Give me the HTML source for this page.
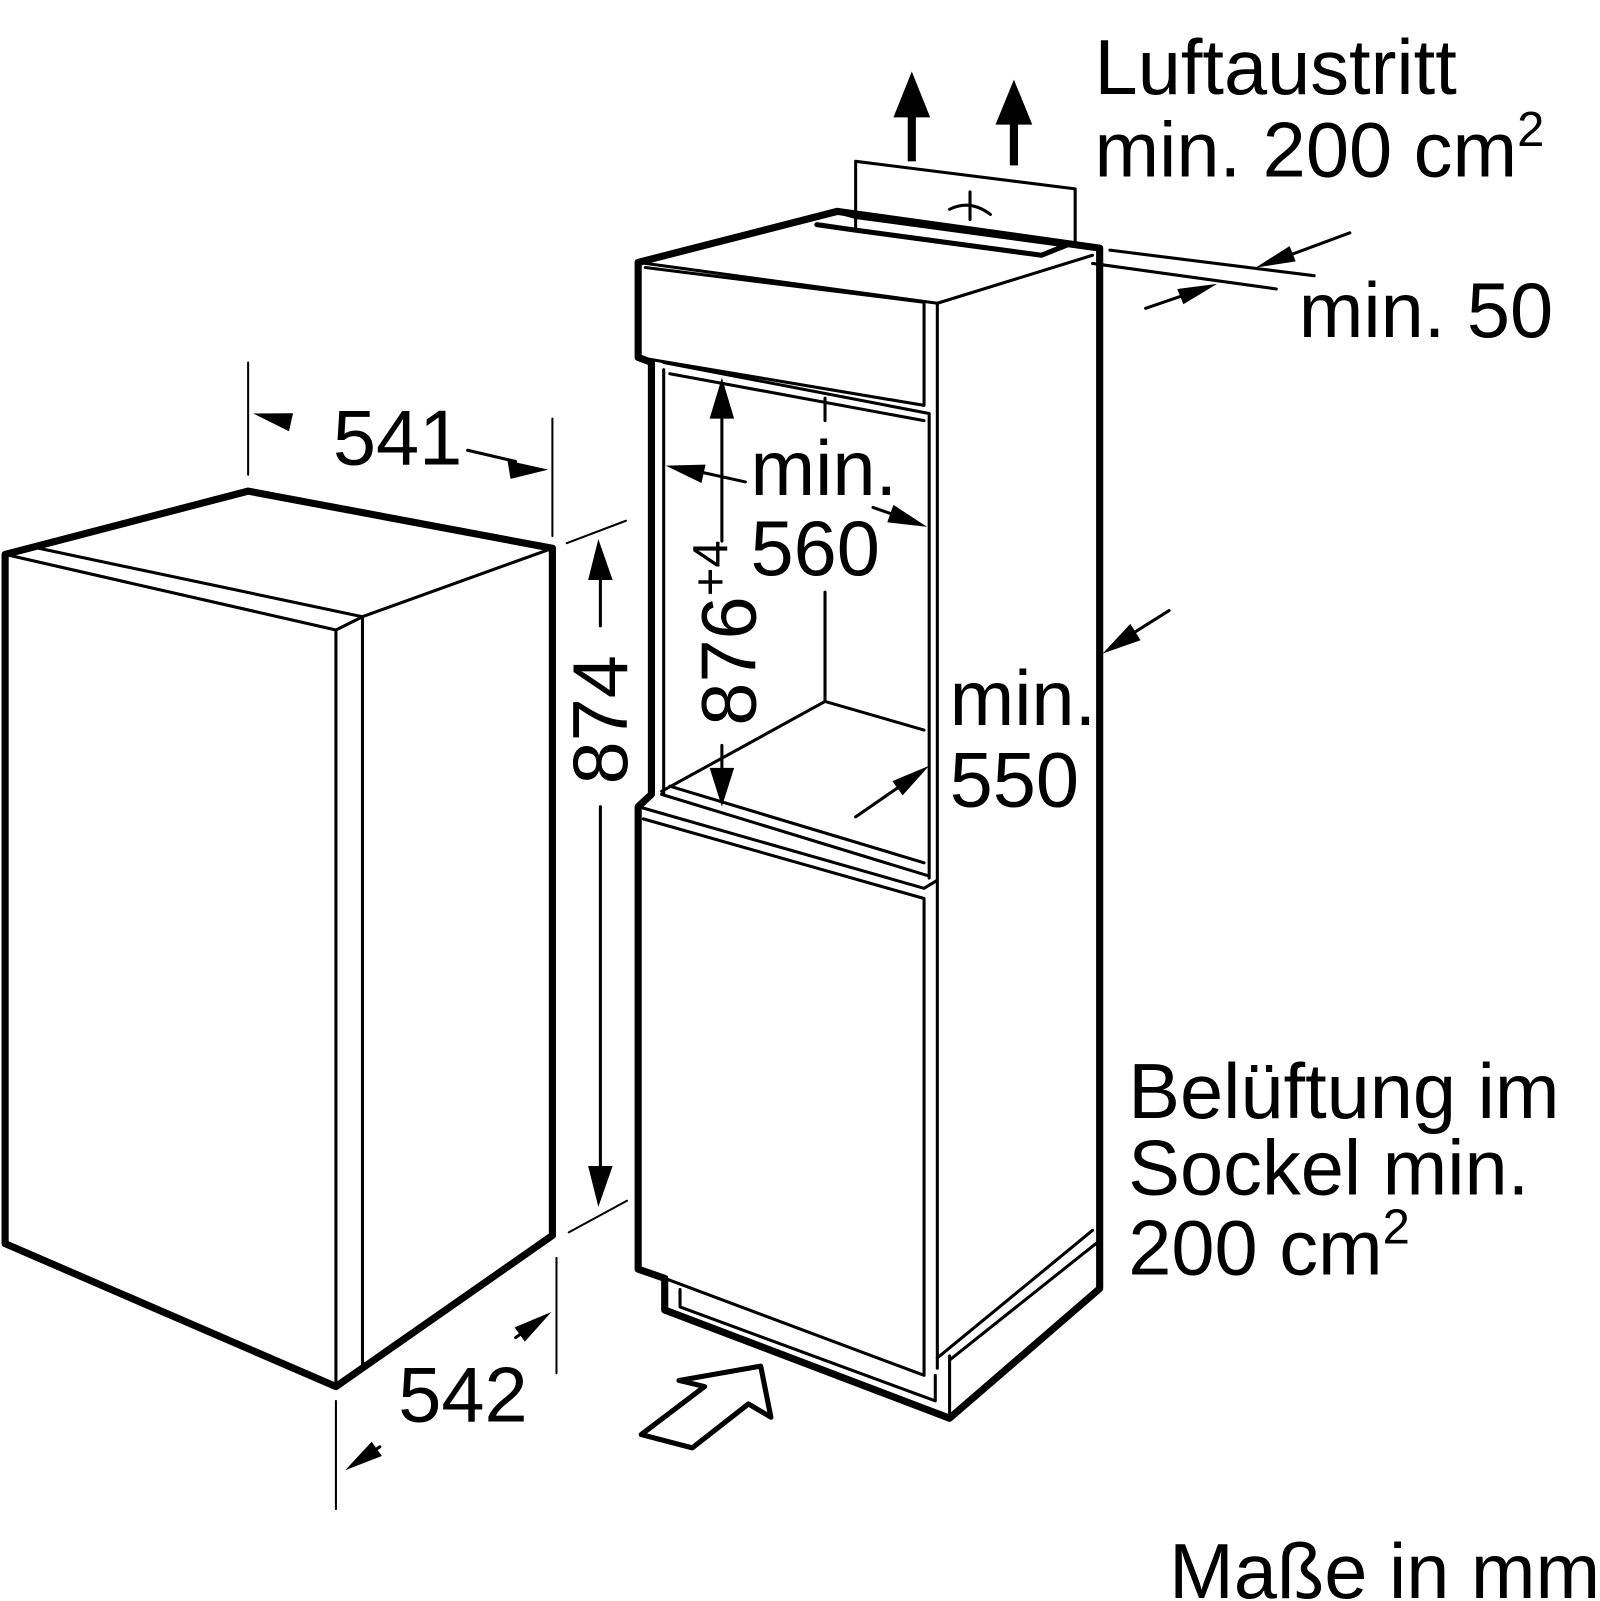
<!DOCTYPE html>
<html><head><meta charset="utf-8"><style>html,body{margin:0;padding:0;background:#fff}svg{display:block}</style></head>
<body>
<svg width="1600" height="1601" viewBox="0 0 1567 1568" xmlns="http://www.w3.org/2000/svg">
<g fill="none" stroke="#000" stroke-linejoin="round" stroke-linecap="round">
<path d="M5,543 L243,481 L541,537 L541,1210 L329,1358 L5,1218 Z" stroke-width="7"/>
<path d="M5,543 L329,617 L329,1358" stroke-width="3"/>
<path d="M38,537 L355,604 L355,1338" stroke-width="3"/>
<path d="M329,617 L355,604 L541,537" stroke-width="3"/>
<path d="M243,355 L243,465 M541,410 L541,525" stroke-width="2"/>
<path d="M283,413 L270,410 M458,441 L505,452" stroke-width="3"/>
<path d="M555,532 L613,510 M557,1207 L614,1176" stroke-width="2"/>
<path d="M588,560 L588,613 M588,790 L588,1150" stroke-width="3"/>
<path d="M545,1232 L545,1345 M329,1372 L329,1478" stroke-width="2"/>
<path d="M505,1310 L512,1305 M369,1419 L372,1417" stroke-width="3"/>
<path d="M638,778 L638,355 L625,350 L625,257 L820,207 L1077,243 L1077,1262 L930,1389 L651,1283 L651,1252 L625,1243 L625,790 L638,778" stroke-width="7"/>
<path d="M625,257 L918,297 L1070,250 M632,262 L905,296" stroke-width="3"/>
<path d="M625,350 L905,397 L905,296 M918,297 L918,1340" stroke-width="3"/>
<path d="M650,355 L910,405 L910,860 M650,362 L650,778 M656,366 L905,412 M648,778 L910,858 M656,770 L905,845" stroke-width="3"/>
<path d="M808,390 L808,412 M808,580 L808,687 L648,775 M808,687 L905,715" stroke-width="3"/>
<path d="M625,790 L905,870 L918,862 M630,802 L905,880 L905,1347 L651,1252" stroke-width="3"/>
<path d="M666,1263 L666,1280 L916,1372 L916,1347 M930,1328 L930,1389 M918,1330 L1070,1205 M930,1332 L1077,1215" stroke-width="3"/>
<path d="M838,225 L838,158 L1053,185 L1053,240" stroke-width="3"/>
<path d="M820,207 L838,212 L1045,240 L1020,250 L835,225 L800,220" stroke-width="5"/>
<path d="M930,205 Q950,195 970,210 M950,188 L950,215" stroke-width="3"/>
<path d="M1087,245 L1287,270 M1070,258 L1250,283" stroke-width="3"/>
<path d="M1322,228 L1260,251 M1122,302 L1160,289" stroke-width="3"/>
<path d="M730,472 L685,462 M855,497 L875,504" stroke-width="3"/>
<path d="M707,400 L707,530 M707,730 L707,765" stroke-width="3"/>
<path d="M838,800 L880,771" stroke-width="3"/>
<path d="M1145,598 L1110,620" stroke-width="3"/>
<path d="M628,1405 L690,1358 L665,1352 L745,1338 L755,1388 L733,1375 L678,1418 Z" stroke-width="5"/>
</g>
<g fill="#000" stroke="none">
<polygon points="248,405 287,404.7 283,422.3"/>
<polygon points="537,460 497,451 500,469"/>
<polygon points="586,528 576,568 600,568"/>
<polygon points="586,1182 576,1142 600,1142"/>
<polygon points="540,1285 514,1314 504,1300"/>
<polygon points="338,1440 374,1426 364,1412"/>
<polygon points="652,456 691,455 687,473"/>
<polygon points="908,516 869,511.5 875,494.5"/>
<polygon points="707,370 695,410 719,410"/>
<polygon points="707,790 695,752 719,752"/>
<polygon points="910,750 884,779 874,765"/>
<polygon points="1080,640 1117,627 1107,611"/>
<polygon points="1230,262 1269,256 1263,241"/>
<polygon points="1192,278 1159,298 1153,283"/>
<rect x="889" y="110" width="8" height="48"/>
<polygon points="893,70 875,115 911,115"/>
<rect x="989" y="118" width="8" height="44"/>
<polygon points="993,78 975,122 1011,122"/>
</g>
<g font-family="Liberation Sans, sans-serif" fill="#000" font-size="76">
<text x="326" y="455">541</text>
<text x="390" y="1392">542</text>
<text transform="translate(614,705) rotate(-90)" text-anchor="middle">874</text>
<text transform="translate(740,620) rotate(-90)" text-anchor="middle">876<tspan font-size="48" dy="-28">+4</tspan></text>
<text x="735" y="485">min.</text>
<text x="735" y="563">560</text>
<text x="930" y="710">min.</text>
<text x="930" y="790">550</text>
<text x="1072" y="92">Luftaustritt</text>
<text x="1072" y="173">min. 200 cm<tspan font-size="48" dy="-30">2</tspan></text>
<text x="1272" y="330">min. 50</text>
<text x="1105" y="1095">Belüftung im</text>
<text x="1105" y="1170">Sockel min.</text>
<text x="1105" y="1248">200 cm<tspan font-size="48" dy="-30">2</tspan></text>
<text x="1145" y="1565">Maße in mm</text>
</g>
</svg>
</body></html>
